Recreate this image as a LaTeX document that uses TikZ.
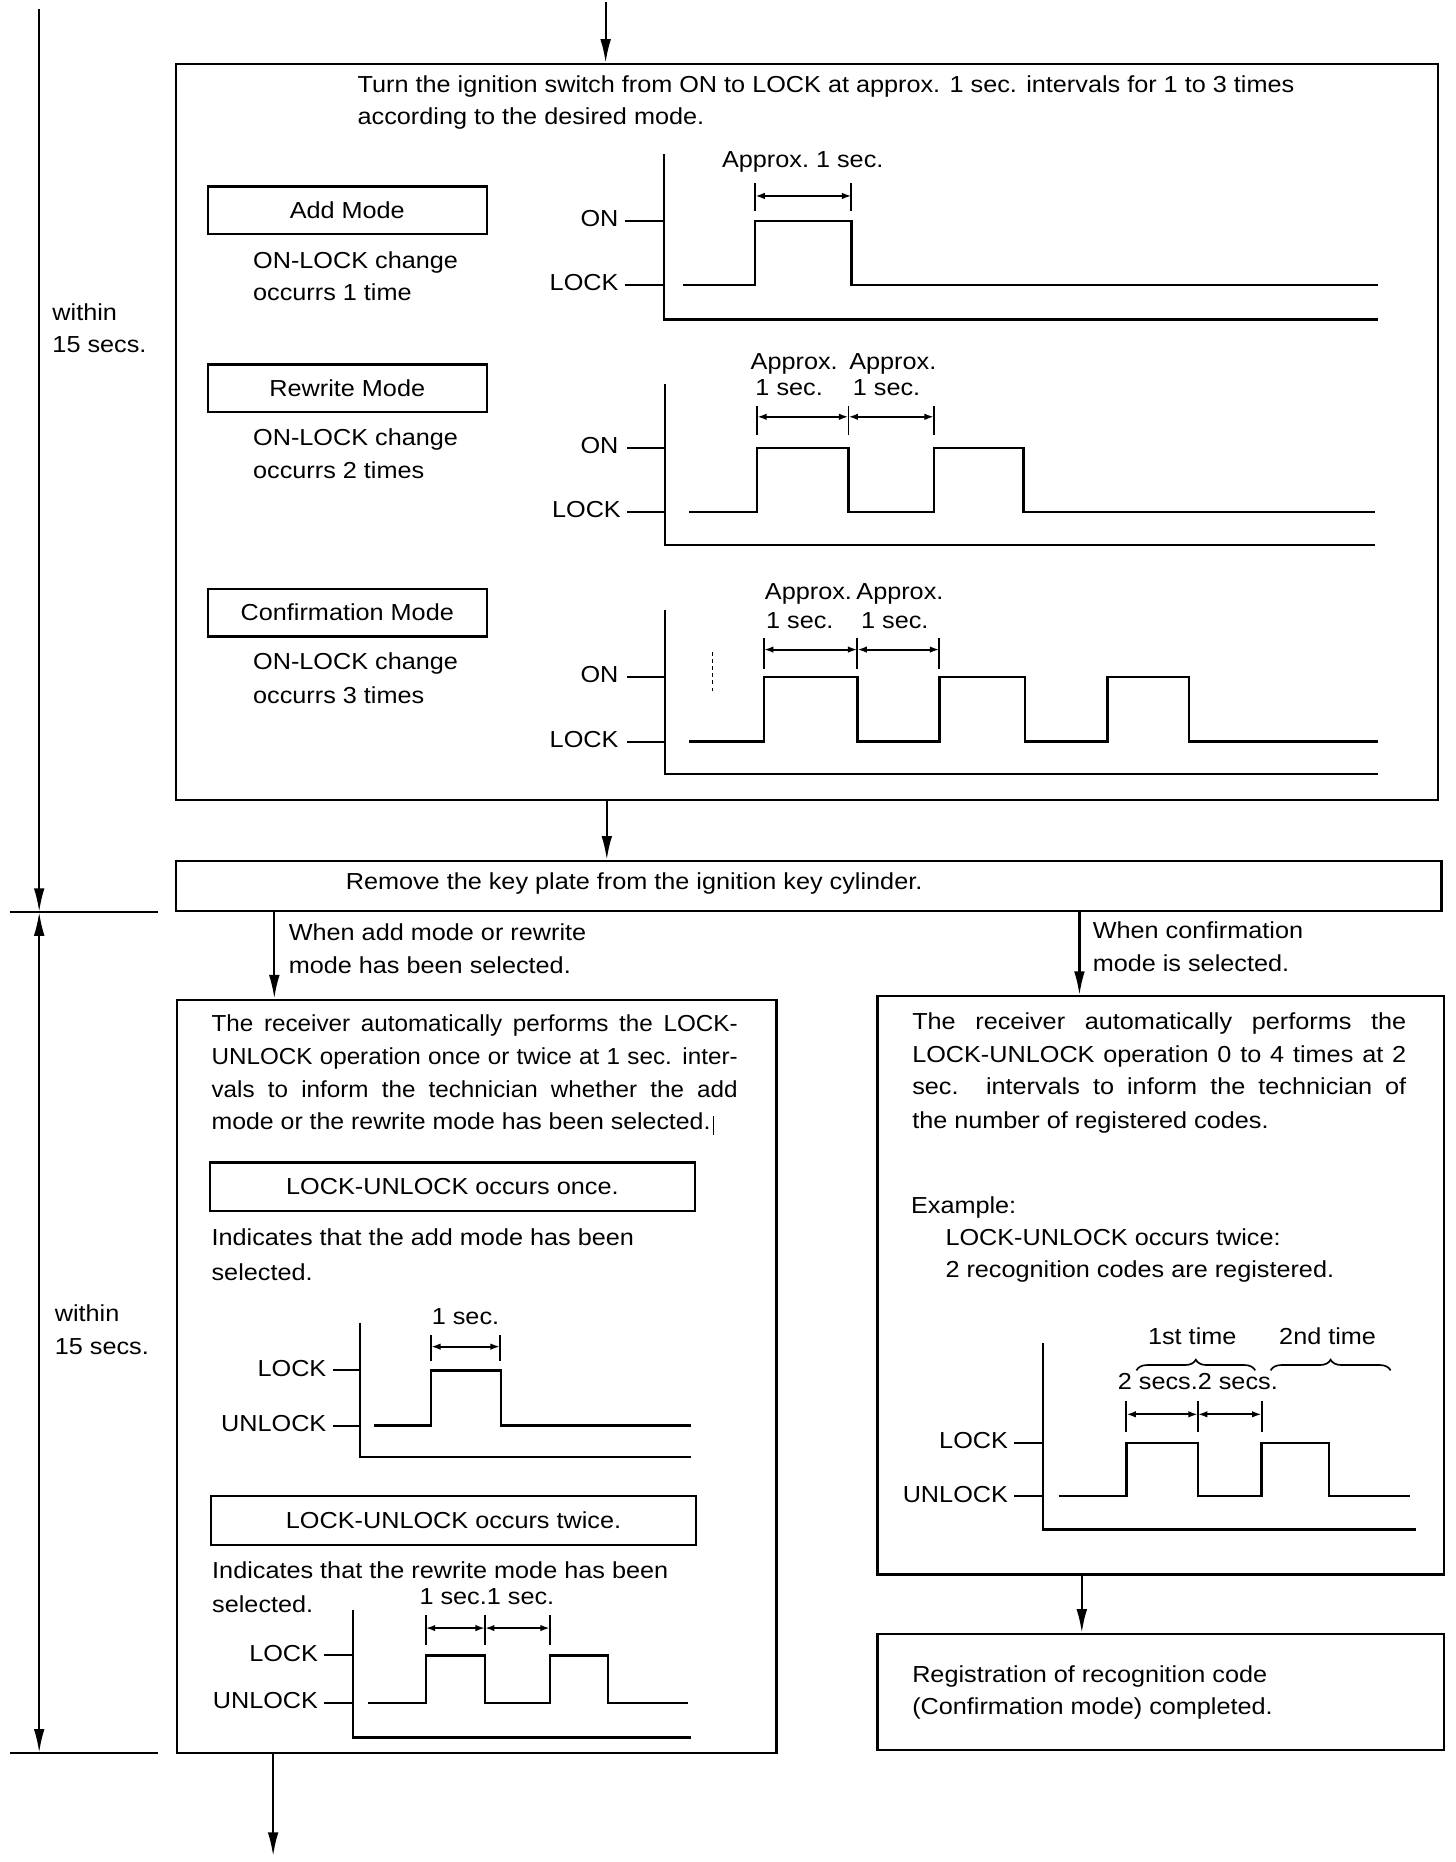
\documentclass[tikz,border=0pt]{standalone}
\usepackage{fontspec}
\usepackage{graphicx}
\setmainfont{Liberation Sans}[FakeStretch=1.09]
\usetikzlibrary{arrows.meta,decorations.pathreplacing}
\newcommand\justline[2]{\scalebox{0.96}[1]{\makebox[#1][s]{#2}}}
\begin{document}
\begin{tikzpicture}[x=1pt,y=-1pt,
  font=\fontsize{19.5}{27.5}\selectfont,
  box/.style={draw, line width=1.9pt, inner sep=0pt, anchor=north west},
  txt/.style={inner sep=0pt, text height=14pt, text depth=4pt, anchor=west},
  arr/.style={line width=1.8pt, -{Latex[length=20pt,width=9pt]}},
  darr/.style={line width=1.8pt, {Latex[length=20pt,width=9pt]}-{Latex[length=20pt,width=9pt]}},
  wave/.style={line width=2pt, line join=miter},
  axisline/.style={line width=2pt},
  tickline/.style={line width=1.6pt},
  dimarr/.style={line width=1.6pt, {Latex[length=8pt,width=5.5pt]}-{Latex[length=8pt,width=5.5pt]}},
  bracestyle/.style={line width=1.4pt, decorate, decoration={brace, amplitude=9pt}}]
\useasboundingbox (0,0) rectangle (1226,1568);

% ---------- boxes ----------
\node[box, minimum width=1063pt, minimum height=620pt] (main) at (147,53) {};
\node[box, minimum width=235pt, minimum height=40pt] (addbox) at (174,156) {};
\node at (addbox.center) {Add Mode};
\node[box, minimum width=235pt, minimum height=40pt] (rewbox) at (174,306) {};
\node at (rewbox.center) {Rewrite Mode};
\node[box, minimum width=235pt, minimum height=40pt] (confbox) at (174,495) {};
\node at (confbox.center) {Confirmation Mode};
\node[box, minimum width=1066pt, minimum height=42pt] (remove) at (147,724) {};
\node[box, minimum width=505pt, minimum height=634pt] (leftbox) at (148,841) {};
\node[box, minimum width=408pt, minimum height=41pt] (oncebox) at (176,978) {};
\node at (oncebox.center) {LOCK-UNLOCK occurs once.};
\node[box, minimum width=408pt, minimum height=41pt] (twicebox) at (177,1259) {};
\node at (twicebox.center) {LOCK-UNLOCK occurs twice.};
\node[box, minimum width=477pt, minimum height=487pt] (rightbox) at (738,838) {};
\node[box, minimum width=477pt, minimum height=98pt] (regbox) at (738,1375) {};

% ---------- connectors ----------
\coordinate (topin) at (510,2);
\draw[arr] (topin) -- (topin |- main.north);
\coordinate (xa) at (511,0);
\draw[arr] (main.south -| xa) -- (remove.north -| xa);
\coordinate (xb) at (231,0);
\draw[arr] (remove.south -| xb) -- (leftbox.north -| xb);
\coordinate (xc) at (909,0);
\draw[arr] (remove.south -| xc) -- (rightbox.north -| xc);
\coordinate (xd) at (911,0);
\draw[arr] (rightbox.south -| xd) -- (regbox.north -| xd);
\coordinate (bend) at (230,1563);
\draw[arr] (leftbox.south -| bend) -- (bend);

% ---------- left time line ----------
\coordinate (tl0) at (33,8);
\coordinate (tl1) at (33,768);
\coordinate (tl2) at (33,1476);
\draw[arr] (tl0) -- (tl1);
\draw[darr] (tl1) -- (tl2);
\draw[line width=1.8pt] (8,768) -- (133,768);
\draw[line width=1.8pt] (8,1476) -- (133,1476);
\node[txt] (w1a) at (44,265) {within};
\node[txt] (w1b) at (44,292) {15 secs.};
\node[txt] (w2a) at (46,1108) {within};
\node[txt] (w2b) at (46,1136) {15 secs.};

% ---------- main box texts ----------
\node[txt] (t1) at (301,73) {Turn the ignition switch from ON to LOCK at approx. 1 sec. intervals for 1 to 3 times};
\node[txt] (t2) at (301,100) {according to the desired mode.};
\node[txt] (m1a) at (213,221) {ON-LOCK change};
\node[txt] (m1b) at (213,248) {occurrs 1 time};
\node[txt] (m2a) at (213,370) {ON-LOCK change};
\node[txt] (m2b) at (213,398) {occurrs 2 times};
\node[txt] (m3a) at (213,559) {ON-LOCK change};
\node[txt] (m3b) at (213,587) {occurrs 3 times};

% chart 1
\draw[axisline] (559,130) -- (559,269) -- (1160,269);
\draw[tickline] (526,186) -- (559,186);
\draw[tickline] (526,240) -- (559,240);
\node[txt,anchor=east] (c1on) at (521,186) {ON};
\node[txt,anchor=east] (c1lock) at (521,240) {LOCK};
\draw[wave] (575,240) -- (636,240) -- (636,186) -- (717,186) -- (717,240) -- (1160,240);
\draw[tickline] (636,154) -- (636,178);
\draw[tickline] (717,154) -- (717,178);
\draw[dimarr] (636,165) -- (717,165);
\node[txt,anchor=center] (c1d) at (676,136) {Approx.\ 1 sec.};

% chart 2
\draw[axisline] (560,323) -- (560,459) -- (1158,459);
\draw[tickline] (528,377) -- (560,377);
\draw[tickline] (528,431) -- (560,431);
\node[txt,anchor=east] (c2on) at (521,377) {ON};
\node[txt,anchor=east] (c2lock) at (523,431) {LOCK};
\draw[wave] (580,431) -- (637.6,431) -- (637.6,377) -- (714.5,377) -- (714.5,431) -- (786.5,431) -- (786.5,377) -- (862,377) -- (862,431) -- (1158,431);
\foreach \xx in {637.6,714.5,786.5} \draw[tickline] (\xx,342) -- (\xx,366);
\draw[dimarr] (637.6,351) -- (714.5,351);
\draw[dimarr] (714.5,351) -- (786.5,351);
\node[txt] (c2a1) at (632,306) {Approx.};
\node[txt] (c2a2) at (715,306) {Approx.};
\node[txt] (c2s1) at (636,328) {1 sec.};
\node[txt] (c2s2) at (718,328) {1 sec.};

% chart 3
\draw[axisline] (560,514) -- (560,652) -- (1160,652);
\draw[tickline] (528,570) -- (560,570);
\draw[tickline] (528,624.5) -- (560,624.5);
\node[txt,anchor=east] (c3on) at (521,570) {ON};
\node[txt,anchor=east] (c3lock) at (521,624.5) {LOCK};
\draw[wave] (580.5,624.5) -- (643.3,624.5) -- (643.3,570) -- (722,570) -- (722,624.5) -- (791,624.5) -- (791,570) -- (863.4,570) -- (863.4,624.5) -- (932.5,624.5) -- (932.5,570) -- (1001,570) -- (1001,624.5) -- (1160,624.5);
\foreach \xx in {643.3,722,791} \draw[tickline] (\xx,537.5) -- (\xx,563);
\draw[dimarr] (643.3,547) -- (722,547);
\draw[dimarr] (722,547) -- (791,547);
\draw[line width=0.6pt, dashed, dash pattern=on 3pt off 3pt] (600,549) -- (600,583);
\node[txt] (c3a1) at (644,500) {Approx.};
\node[txt] (c3a2) at (721,500) {Approx.};
\node[txt] (c3s1) at (645,524) {1 sec.};
\node[txt] (c3s2) at (725,524) {1 sec.};

% ---------- remove box text ----------
\node[txt] (rt) at (291,744) {Remove the key plate from the ignition key cylinder.};

% branch labels
\node[txt] (bl1) at (243,787) {When add mode or rewrite};
\node[txt] (bl2) at (243,815) {mode has been selected.};
\node[txt] (br1) at (920,785) {When confirmation};
\node[txt] (br2) at (920,813) {mode is selected.};

% ---------- left box texts ----------
\node[txt] (lp1) at (178,864) {\justline{461.5pt}{The receiver automatically performs the LOCK-}};
\node[txt] (lp2) at (178,891.5) {\justline{461.5pt}{UNLOCK operation once or twice at 1 sec. inter-}};
\node[txt] (lp3) at (178,919) {\justline{461.5pt}{vals to inform the technician whether the add}};
\node[txt] (lp4) at (178,946.5) {\scalebox{0.985}[1]{mode or the rewrite mode has been selected.}};
\draw[line width=0.6pt] (601,940) -- (601,956);
\node[txt] (ia1) at (178,1044) {Indicates that the add mode has been};
\node[txt] (ia2) at (178,1073) {selected.};
\node[txt] (ib1) at (178.5,1324) {Indicates that the rewrite mode has been};
\node[txt] (ib2) at (178.5,1353) {selected.};

% chart L1
\draw[axisline] (303,1114) -- (303,1227) -- (582,1227);
\draw[tickline] (280,1154) -- (303,1154);
\draw[tickline] (280,1200.5) -- (303,1200.5);
\node[txt,anchor=east] (l1lock) at (275,1154) {LOCK};
\node[txt,anchor=east] (l1unlock) at (275,1200.5) {UNLOCK};
\draw[wave] (315,1200.5) -- (363,1200.5) -- (363,1154) -- (422,1154) -- (422,1200.5) -- (582,1200.5);
\foreach \xx in {363,421} \draw[tickline] (\xx,1124) -- (\xx,1146);
\draw[dimarr] (363,1134) -- (421,1134);
\node[txt,anchor=center] (l1d) at (392,1110) {1 sec.};

% chart L2
\draw[axisline] (297,1356) -- (297,1463) -- (582,1463);
\draw[tickline] (273,1394) -- (297,1394);
\draw[tickline] (273,1434) -- (297,1434);
\node[txt,anchor=east] (l2lock) at (268,1394) {LOCK};
\node[txt,anchor=east] (l2unlock) at (268,1434) {UNLOCK};
\draw[wave] (310,1434) -- (358.5,1434) -- (358.5,1394) -- (408.4,1394) -- (408.4,1434) -- (463,1434) -- (463,1394) -- (512,1394) -- (512,1434) -- (579,1434);
\foreach \xx in {358.5,408.4,463} \draw[tickline] (\xx,1360) -- (\xx,1385);
\draw[dimarr] (358.5,1371) -- (408.4,1371);
\draw[dimarr] (408.4,1371) -- (463,1371);
\node[txt,anchor=center] (l2d) at (410,1346) {1 sec.1 sec.};

% ---------- right box texts ----------
\node[txt] (rp1) at (768,862) {\makebox[416pt][s]{The receiver automatically performs the}};
\node[txt] (rp2) at (768,890) {\makebox[416pt][s]{LOCK-UNLOCK operation 0 to 4 times at 2}};
\node[txt] (rp3) at (768,917) {\makebox[416pt][s]{sec. intervals to inform the technician of}};
\node[txt] (rp4) at (768,945) {the number of registered codes.};
\node[txt] (ex1) at (767,1017) {Example:};
\node[txt] (ex2) at (796,1044) {LOCK-UNLOCK occurs twice:};
\node[txt] (ex3) at (796,1071) {2 recognition codes are registered.};

% chart R
\draw[axisline] (878.5,1131) -- (878.5,1288) -- (1192.6,1288);
\draw[tickline] (854,1215) -- (878.5,1215);
\draw[tickline] (854,1260) -- (878.5,1260);
\node[txt,anchor=east] (rlock) at (849,1215) {LOCK};
\node[txt,anchor=east] (runlock) at (849,1260) {UNLOCK};
\draw[wave] (891.5,1260) -- (948.5,1260) -- (948.5,1215) -- (1008.7,1215) -- (1008.7,1260) -- (1062.4,1260) -- (1062.4,1215) -- (1119.3,1215) -- (1119.3,1260) -- (1187.7,1260);
\foreach \xx in {948.5,1008.7,1062.4} \draw[tickline] (\xx,1180) -- (\xx,1206);
\draw[dimarr] (948.5,1191) -- (1008.7,1191);
\draw[dimarr] (1008.7,1191) -- (1062.4,1191);
\node[txt,anchor=center] (rd) at (1008.7,1165) {2 secs.2 secs.};
\draw[bracestyle] (957,1154) -- (1057,1154);
\draw[bracestyle] (1070,1154) -- (1171,1154);
\node[txt,anchor=center] (r1st) at (1004,1127) {1st time};
\node[txt,anchor=center] (r2nd) at (1118,1127) {2nd time};

% ---------- registration box ----------
\node[txt] (reg1) at (768,1412) {Registration of recognition code};
\node[txt] (reg2) at (768,1439) {(Confirmation mode) completed.};
\end{tikzpicture}
\end{document}
